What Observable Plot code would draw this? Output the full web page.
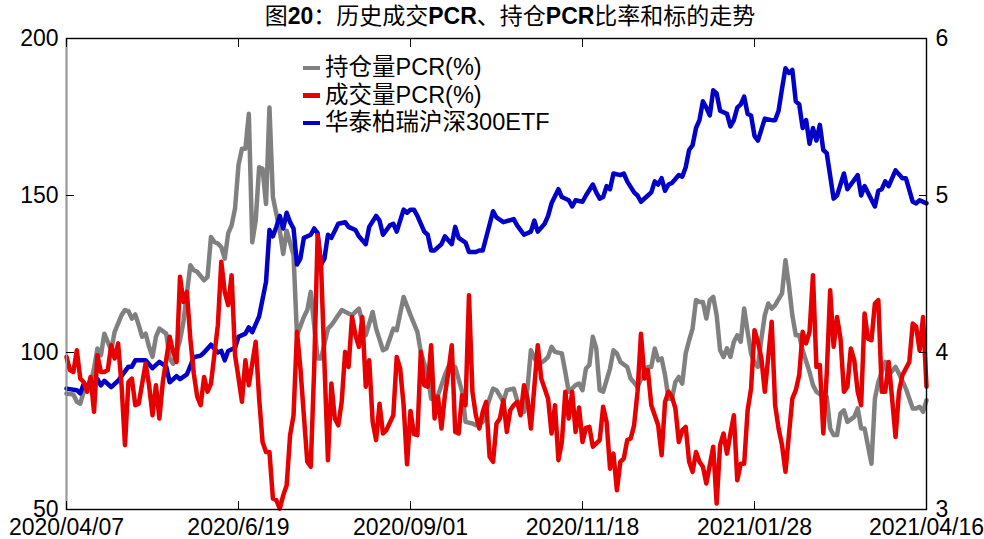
<!DOCTYPE html>
<html><head><meta charset="utf-8">
<script src="https://cdn.jsdelivr.net/npm/d3@7"></script>
<script src="https://cdn.jsdelivr.net/npm/@observablehq/plot@0.6"></script>
<style>
body{margin:0;background:#fff;}
#wrap{position:relative;width:984px;height:539px;overflow:hidden;}
#title{height:28px;line-height:33px;text-align:center;padding-left:36px;font-size:23px;font-family:"Liberation Sans","Noto Sans CJK SC",sans-serif;color:#000;white-space:nowrap;}
#title b{font-weight:bold;}
#legend{position:absolute;left:303px;top:54px;font-size:23.5px;line-height:27.5px;font-family:"Liberation Sans","Noto Sans CJK SC",sans-serif;color:#000;}
#legend .sw{display:inline-block;width:17px;height:4.5px;vertical-align:middle;margin-right:5px;position:relative;top:-1px;}
</style></head><body>
<div id="wrap">
<div id="title">图<b>20</b>：历史成交<b>PCR</b>、持仓<b>PCR</b>比率和标的走势</div>
<div id="chart"></div>
<div id="legend"></div>
</div>
<script>
// x = trading-day index from 2020/04/07
const tickDays = [0, 50, 100, 150, 200, 250];
const tickLabels = ["2020/04/07", "2020/6/19", "2020/09/01", "2020/11/18", "2021/01/28", "2021/04/16"];
const leftTicks = [50, 100, 150, 200];
const rightTicks = [3, 4, 5, 6];
const seriesNames = ["持仓量PCR(%)", "成交量PCR(%)", "华泰柏瑞沪深300ETF"];
const seriesColors = ["#808080", "#e60000", "#0000c8"];

// 持仓量PCR(%) [day, value]
const grayPCR = [[0,86.9],[2,86.6],[3,84.3],[4,83.7],[5,87.5],[7,89.6],[8,94.9],[9,101.3],[10,99.1],[11,106.0],[12,103.4],[13,100.7],[14,106.6],[16,111.9],[17,113.5],[18,113.2],[19,110.8],[20,112.1],[21,108.7],[22,105.0],[23,106.0],[24,101.8],[25,98.6],[26,105.0],[27,107.6],[29,106.0],[30,98.1],[31,96.4],[33,103.9],[34,109.8],[36,127.8],[37,126.2],[38,125.7],[40,123.0],[41,124.1],[42,136.8],[43,135.2],[44,134.7],[45,133.6],[46,129.9],[47,137.9],[48,140.5],[49,145.9],[50,159.7],[51,164.9],[52,164.9],[53,176.0],[54,135.1],[55,142.0],[56,159.0],[57,158.5],[58,147.3],[59,178.0],[60,149.5],[62,138.8],[63,131.4],[64,138.8],[66,131.0],[67,105.5],[69,111.3],[70,113.5],[71,119.3],[73,98.1],[74,98.1],[76,107.6],[77,108.7],[80,113.5],[82,112.4],[83,111.9],[85,114.0],[87,105.5],[89,112.9],[90,107.6],[92,100.7],[93,101.3],[95,107.6],[96,107.1],[98,117.7],[100,111.9],[102,106.6],[103,100.2],[105,92.8],[106,85.3],[108,86.4],[110,92.8],[111,95.4],[113,95.4],[115,87.5],[116,77.9],[118,77.4],[119,76.8],[121,77.9],[123,85.3],[124,88.5],[125,88.0],[127,84.3],[128,88.0],[130,88.5],[131,84.8],[133,81.1],[134,88.5],[135,100.7],[137,96.0],[139,97.5],[140,98.6],[141,101.8],[142,100.2],[144,99.7],[145,93.8],[146,87.5],[148,89.6],[149,90.1],[150,88.0],[151,94.9],[152,96.0],[153,105.0],[154,101.3],[155,88.0],[156,87.5],[158,94.9],[159,100.7],[160,99.7],[161,97.0],[163,95.4],[164,91.7],[166,89.1],[168,93.8],[169,95.4],[170,95.4],[171,101.3],[172,97.5],[173,98.1],[174,92.8],[175,85.3],[176,85.3],[177,90.6],[178,92.2],[179,90.1],[180,99.7],[181,103.9],[182,107.6],[183,116.7],[184,116.1],[185,116.1],[186,110.8],[187,116.7],[188,117.7],[189,111.9],[190,100.7],[191,98.6],[192,101.3],[193,98.6],[194,103.4],[195,105.5],[196,103.4],[197,114.0],[198,106.6],[199,99.7],[200,96.5],[201,95.4],[202,104.4],[203,111.9],[204,115.6],[205,114.0],[206,115.1],[208,118.8],[209,129.4],[210,121.4],[211,111.9],[212,105.5],[213,105.5],[214,100.7],[216,93.8],[217,89.6],[218,87.5],[220,85.9],[221,85.9],[222,75.8],[223,73.7],[224,73.7],[225,80.6],[226,81.6],[227,77.9],[229,79.5],[230,82.2],[231,75.8],[232,75.8],[234,64.6],[235,85.3],[236,90.6],[238,97.0],[239,92.8],[241,95.4],[242,93.3],[244,88.5],[246,82.2],[247,82.2],[248,82.7],[249,81.1],[250,84.8]];

// 成交量PCR(%) [day, value]
const redPCR = [[0,98.6],[1,94.4],[2,93.8],[3,100.7],[4,91.7],[5,90.6],[6,87.5],[7,92.2],[8,81.1],[9,99.1],[10,93.8],[11,93.8],[12,94.4],[13,102.3],[14,98.1],[15,102.9],[16,89.6],[17,70.5],[18,90.6],[19,91.7],[20,83.2],[21,83.7],[23,96.5],[24,89.6],[25,80.0],[26,89.6],[27,79.0],[28,90.6],[30,105.0],[31,100.2],[32,97.0],[33,124.1],[34,116.1],[35,119.3],[36,104.4],[37,93.3],[38,85.9],[39,83.2],[40,92.2],[41,87.5],[42,90.1],[44,108.7],[45,128.9],[46,119.3],[47,115.1],[48,124.6],[49,99.1],[50,92.0],[51,84.3],[52,97.5],[53,89.6],[55,103.4],[56,85.3],[57,71.5],[58,68.3],[59,68.3],[60,53.5],[61,53.0],[62,50.3],[63,54.5],[64,57.7],[65,73.7],[66,80.0],[67,106.6],[68,94.9],[69,80.0],[70,65.2],[71,63.6],[72,94.9],[73,137.4],[74,127.8],[75,96.0],[76,65.7],[77,90.1],[78,79.0],[79,76.8],[80,84.3],[81,100.2],[82,95.4],[83,111.3],[84,105.5],[85,101.8],[86,111.3],[87,89.1],[88,97.5],[89,77.9],[90,72.1],[91,83.7],[92,74.2],[93,75.3],[95,80.0],[96,98.6],[97,94.9],[98,83.2],[99,64.4],[100,81.4],[101,74.0],[102,73.7],[103,100.2],[104,89.6],[105,89.1],[106,102.3],[107,79.0],[108,85.9],[109,75.8],[110,86.4],[111,93.8],[112,102.3],[113,74.7],[114,74.2],[115,86.4],[116,83.2],[117,118.2],[118,87.5],[119,80.0],[120,75.8],[121,81.1],[122,84.3],[123,66.8],[124,65.2],[125,77.4],[126,79.0],[127,84.8],[128,74.7],[129,81.6],[130,83.2],[131,84.3],[132,80.0],[133,89.6],[134,85.3],[135,75.8],[137,102.3],[138,91.7],[140,85.3],[141,74.2],[142,83.2],[143,65.7],[144,71.5],[145,87.5],[146,79.0],[147,87.5],[148,74.7],[149,82.5],[150,71.5],[151,76.0],[152,76.3],[153,70.0],[155,72.1],[156,82.7],[157,77.9],[158,63.0],[159,67.8],[160,56.1],[161,65.2],[162,66.2],[163,72.1],[164,72.6],[165,76.8],[166,87.5],[167,106.0],[168,91.7],[169,94.4],[170,83.2],[171,80.0],[172,76.8],[173,67.3],[174,84.3],[175,87.5],[176,85.9],[177,82.2],[178,71.5],[179,75.3],[180,76.3],[181,65.2],[182,62.0],[183,68.3],[184,65.2],[185,63.6],[186,58.3],[187,64.1],[188,70.0],[189,51.9],[190,70.5],[191,74.2],[192,67.8],[193,74.2],[194,80.0],[195,59.3],[196,64.6],[197,64.6],[198,81.6],[199,88.5],[200,107.1],[201,103.4],[202,98.1],[203,87.5],[204,98.6],[205,109.8],[206,83.2],[207,75.8],[208,70.5],[209,62.0],[210,73.7],[211,85.3],[212,88.0],[213,92.8],[214,106.6],[215,102.9],[216,106.6],[217,124.6],[218,95.4],[219,96.0],[220,74.2],[221,93.3],[222,119.8],[223,101.8],[224,111.3],[225,104.4],[226,87.5],[227,89.1],[228,101.3],[229,97.5],[230,87.5],[231,83.2],[232,112.4],[233,104.4],[234,103.9],[235,115.6],[236,116.7],[237,87.5],[238,87.5],[239,97.0],[240,85.3],[241,73.1],[242,87.5],[243,92.8],[245,97.0],[246,109.2],[247,108.2],[248,100.7],[249,111.3],[250,89.1]];

// 华泰柏瑞沪深300ETF price [day, value] (right axis)
const etfPrice = [[0,3.77],[3,3.76],[4,3.74],[5,3.80],[7,3.78],[9,3.83],[10,3.79],[11,3.82],[13,3.78],[15,3.82],[18,3.91],[19,3.91],[20,3.95],[23,3.95],[25,3.90],[27,3.94],[29,3.91],[30,3.81],[32,3.85],[33,3.83],[35,3.86],[37,3.97],[39,3.98],[40,4.00],[42,4.05],[44,4.00],[45,4.01],[46,3.95],[47,4.01],[49,4.03],[50,4.10],[52,4.12],[53,4.16],[54,4.13],[56,4.23],[58,4.45],[59,4.78],[60,4.74],[61,4.80],[62,4.87],[63,4.79],[64,4.89],[65,4.83],[66,4.79],[67,4.56],[68,4.60],[69,4.73],[71,4.75],[72,4.79],[73,4.76],[74,4.56],[75,4.60],[76,4.75],[77,4.73],[79,4.82],[81,4.83],[82,4.80],[84,4.78],[85,4.74],[87,4.69],[88,4.80],[90,4.87],[91,4.84],[92,4.75],[94,4.81],[95,4.82],[96,4.77],[98,4.91],[99,4.89],[100,4.91],[101,4.91],[102,4.87],[104,4.77],[105,4.75],[106,4.65],[107,4.65],[109,4.69],[110,4.74],[112,4.69],[113,4.80],[114,4.73],[116,4.70],[117,4.64],[119,4.64],[120,4.65],[121,4.65],[124,4.90],[125,4.86],[127,4.83],[130,4.85],[131,4.81],[133,4.75],[135,4.77],[136,4.84],[137,4.77],[139,4.82],[140,4.87],[141,4.95],[143,5.04],[144,4.99],[146,4.97],[147,4.93],[148,4.97],[150,4.96],[151,5.00],[153,5.07],[154,5.02],[155,4.98],[156,4.99],[157,5.06],[158,5.04],[159,5.14],[161,5.13],[162,5.14],[163,5.09],[165,5.02],[166,5.00],[167,4.96],[169,5.00],[170,5.02],[171,5.09],[172,5.07],[173,5.11],[174,5.03],[175,5.07],[176,5.08],[178,5.13],[179,5.12],[180,5.18],[181,5.29],[182,5.32],[183,5.43],[184,5.48],[185,5.60],[186,5.56],[187,5.51],[188,5.67],[189,5.65],[190,5.54],[192,5.52],[193,5.44],[194,5.48],[195,5.56],[196,5.58],[197,5.63],[198,5.52],[199,5.51],[200,5.38],[201,5.35],[203,5.49],[205,5.48],[206,5.48],[207,5.54],[208,5.68],[209,5.81],[210,5.78],[211,5.80],[212,5.60],[213,5.58],[214,5.43],[215,5.48],[216,5.33],[217,5.43],[218,5.35],[219,5.45],[220,5.29],[221,5.27],[223,4.98],[224,5.00],[226,5.14],[227,5.04],[230,5.13],[231,5.00],[232,5.06],[235,4.93],[236,5.03],[237,5.04],[238,5.09],[239,5.06],[241,5.16],[243,5.11],[244,5.11],[246,4.96],[247,4.95],[248,4.97],[250,4.95]];

// map right-axis values (3..6) onto left scale (50..200)
const toLeft = v => 50 + (v - 3) * 50;
const grayData = grayPCR.map(([d, v]) => ({d, v}));
const redData = redPCR.map(([d, v]) => ({d, v}));
const etfData = etfPrice.map(([d, v]) => ({d, v: toLeft(v)}));

const font = "'Liberation Sans', 'Noto Sans CJK SC', Arial, sans-serif";
const chart = Plot.plot({
  width: 984,
  height: 511,
  marginLeft: 66,
  marginRight: 58,
  marginTop: 10,
  marginBottom: 30,
  x: {domain: [0, 250]},
  y: {domain: [50, 200]},
  style: {fontFamily: font, fontSize: "23px", color: "#000", background: "#fff", overflow: "visible"},
  marks: [
    Plot.line(grayData, {x: "d", y: "v", stroke: seriesColors[0], strokeWidth: 4.5, strokeLinejoin: "round"}),
    Plot.line(etfData, {x: "d", y: "v", stroke: seriesColors[2], strokeWidth: 4.5, strokeLinejoin: "round"}),
    Plot.line(redData, {x: "d", y: "v", stroke: seriesColors[1], strokeWidth: 4.5, strokeLinejoin: "round"}),
    Plot.frame({stroke: "#000", strokeWidth: 1.4}),
    Plot.ruleX([0], {stroke: "#9a9a9a", strokeWidth: 1.4}),
    Plot.axisY({anchor: "left", ticks: leftTicks, tickSize: 0, tickPadding: 8, fontSize: 23, label: null}),
    Plot.axisY({anchor: "left", ticks: leftTicks, tickSize: -8, tickFormat: () => "", label: null}),
    Plot.axisY({anchor: "right", ticks: rightTicks.map(toLeft), tickSize: 0, tickPadding: 9, fontSize: 23, tickFormat: (d) => String(3 + (d - 50) / 50), label: null}),
    Plot.axisY({anchor: "right", ticks: rightTicks.map(toLeft), tickSize: -8, tickFormat: () => "", label: null}),
    Plot.axisX({anchor: "bottom", ticks: tickDays, tickSize: 0, tickPadding: 9, fontSize: 23, tickFormat: (d) => tickLabels[tickDays.indexOf(d)], label: null}),
    Plot.axisX({anchor: "bottom", ticks: tickDays, tickSize: -8, tickFormat: () => "", label: null}),
    Plot.axisX({anchor: "top", ticks: tickDays, tickSize: -8, tickFormat: () => "", label: null})
  ]
});
document.getElementById("chart").appendChild(chart);

const legend = document.getElementById("legend");
seriesNames.forEach((name, i) => {
  const row = document.createElement("div");
  const sw = document.createElement("span");
  sw.className = "sw";
  sw.style.background = seriesColors[i];
  row.appendChild(sw);
  row.appendChild(document.createTextNode(name));
  legend.appendChild(row);
});
</script>
</body></html>
